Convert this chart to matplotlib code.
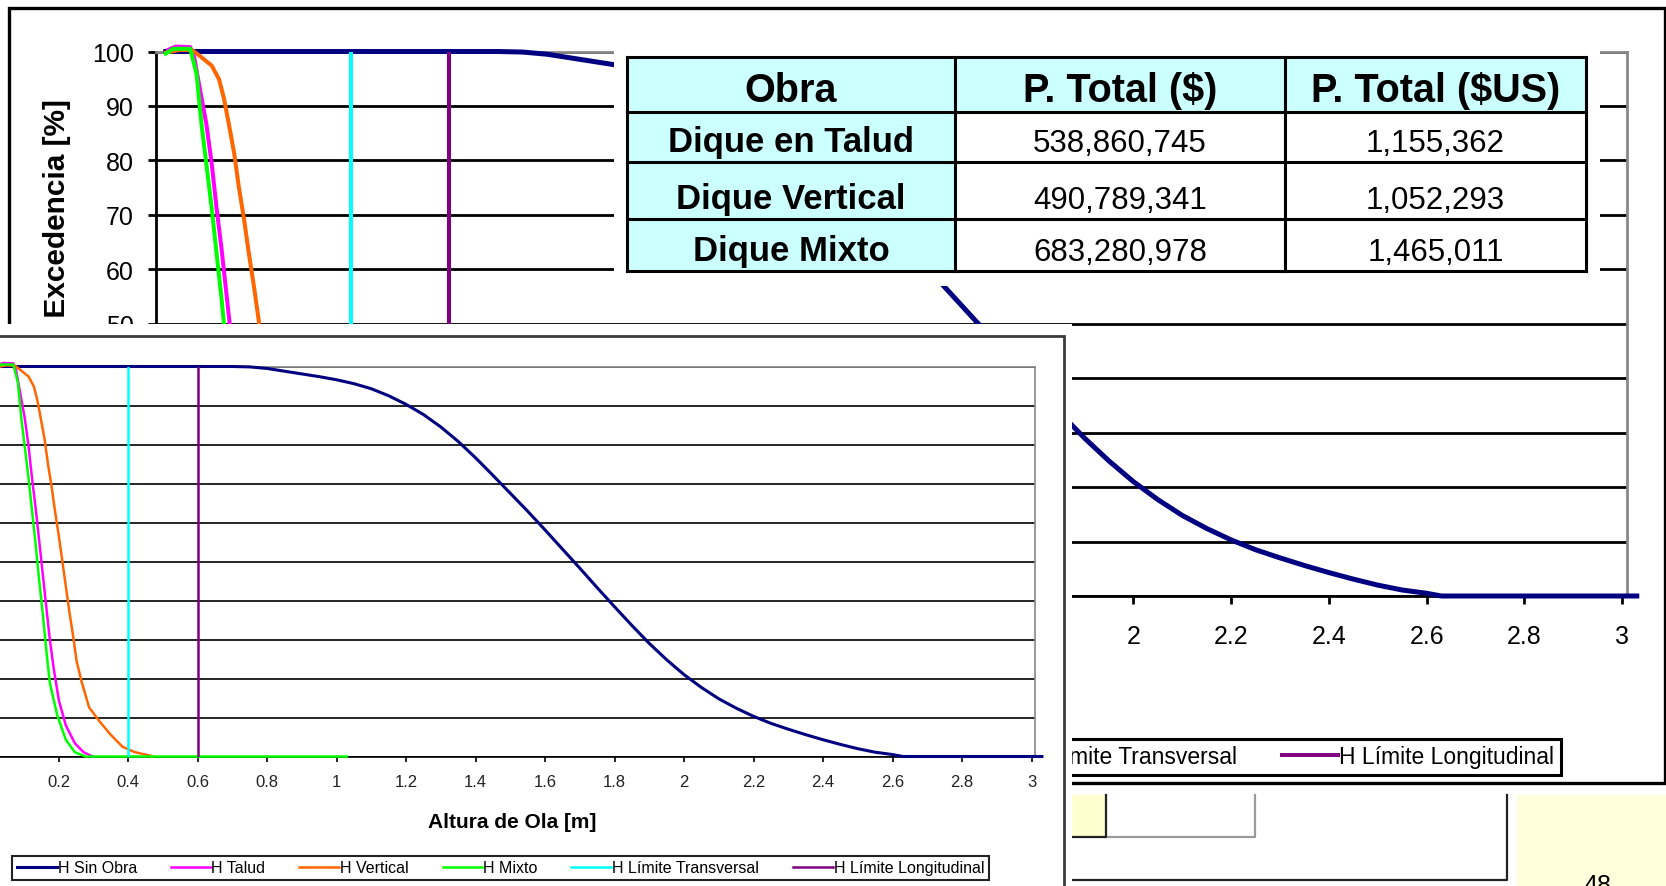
import matplotlib
matplotlib.use("Agg")
import matplotlib.pyplot as plt
from matplotlib.patches import Rectangle

plt.rcParams['font.family'] = ['Liberation Sans', 'DejaVu Sans']

# ---------------------------------------------------------------
# Wave-height exceedance curves: x = wave height [m], y = exceedance [%]
# ---------------------------------------------------------------
h_sin_obra_x = [0.02, 0.70, 0.75, 0.80, 0.85, 0.90, 0.95, 1.00, 1.05, 1.10, 1.15,
                1.20, 1.25, 1.30, 1.35, 1.40, 1.45, 1.50, 1.55, 1.60, 1.65,
                1.70, 1.75, 1.80, 1.85, 1.90, 1.95, 2.00, 2.05, 2.10, 2.15,
                2.20, 2.25, 2.30, 2.35, 2.40, 2.45, 2.50, 2.55, 2.60, 2.63, 3.03]
h_sin_obra_y = [100.0, 100.0, 99.9, 99.5, 98.8, 98.1, 97.4, 96.6, 95.6, 94.3, 92.5,
                90.3, 87.7, 84.5, 80.8, 76.6, 72.1, 67.5, 62.9, 58.1, 53.2,
                48.3, 43.3, 38.4, 33.6, 29.0, 24.8, 21.0, 17.7, 14.8, 12.4,
                10.3, 8.5, 7.0, 5.6, 4.3, 3.1, 2.0, 1.1, 0.5, 0.0, 0.0]

h_talud_x = [0.025, 0.04, 0.07, 0.078, 0.088, 0.103, 0.114, 0.124, 0.134, 0.144,
             0.155, 0.165, 0.175, 0.186, 0.201, 0.221, 0.247, 0.272, 0.293, 0.30]
h_talud_y = [100.3, 100.9, 100.8, 99.0, 94.0, 86.7, 79.4, 71.2, 63.8, 55.6,
             46.5, 38.2, 30.0, 22.7, 14.4, 8.0, 3.4, 1.1, 0.2, 0.0]

h_vertical_x = [0.02, 0.05, 0.075, 0.088, 0.114, 0.129, 0.139, 0.149, 0.160, 0.170,
                0.180, 0.190, 0.201, 0.211, 0.221, 0.231, 0.242, 0.252, 0.267,
                0.288, 0.319, 0.349, 0.384, 0.420, 0.465, 0.47]
h_vertical_y = [99.8, 100.3, 100.2, 99.3, 97.4, 94.9, 91.4, 86.7, 81.3, 74.8,
                69.3, 62.9, 56.5, 50.1, 43.7, 37.3, 30.9, 24.5, 19.0,
                12.6, 8.9, 5.7, 2.5, 1.1, 0.2, 0.0]

h_mixto_x = [0.02, 0.035, 0.07, 0.083, 0.093, 0.103, 0.114, 0.124, 0.134, 0.144,
             0.155, 0.165, 0.175, 0.196, 0.221, 0.247, 0.278, 1.03]
h_mixto_y = [99.6, 100.5, 100.5, 95.9, 86.7, 79.4, 71.2, 62.9, 54.7, 45.5,
             36.4, 27.2, 18.9, 10.7, 4.3, 1.1, 0.0, 0.0]

limite_transversal = 0.4
limite_longitudinal = 0.6

series_labels = ["H Sin Obra", "H Talud", "H Vertical", "H Mixto",
                 "H Límite Transversal", "H Límite Longitudinal"]
series_colors = ["#000080", "#FF00FF", "#FF6600", "#00FF00", "#00FFFF", "#800080"]

x_tick_values = [0, 0.2, 0.4, 0.6, 0.8, 1, 1.2, 1.4, 1.6, 1.8, 2, 2.2, 2.4, 2.6, 2.8, 3]
y_tick_values = [0, 10, 20, 30, 40, 50, 60, 70, 80, 90, 100]
x_label = "Altura de Ola [m]"
y_label = "Probabilidad de Excedencia [%]"

# Cost summary table
table_columns = ["Obra", "P. Total ($)", "P. Total ($US)"]
table_obras = ["Dique en Talud", "Dique Vertical", "Dique Mixto"]
table_total_clp = [538860745, 490789341, 683280978]
table_total_usd = [1155362, 1052293, 1465011]

page_number = "48"

# ---------------------------------------------------------------
W, H = 1666, 887
fig = plt.figure(figsize=(W / 100, H / 100), dpi=100)
fig.patch.set_facecolor("white")


def px_rect(left, top, right, bottom):
    return [left / W, 1 - bottom / H, (right - left) / W, (bottom - top) / H]


def overlay(z):
    ax = fig.add_axes([0, 0, 1, 1], zorder=z)
    ax.set_xlim(0, W)
    ax.set_ylim(H, 0)
    ax.axis("off")
    ax.patch.set_alpha(0)
    return ax


def build_chart(ax, lw_navy, lw_curve, lw_grid, lw_axis, lw_border,
                tick_fs, tick_len, xpad, ypad):
    handles = []
    handles += ax.plot(h_sin_obra_x, h_sin_obra_y, color=series_colors[0],
                       lw=lw_navy, clip_on=False, zorder=4)
    handles += ax.plot(h_talud_x, h_talud_y, color=series_colors[1],
                       lw=lw_curve, clip_on=False, zorder=4)
    handles += ax.plot(h_vertical_x, h_vertical_y, color=series_colors[2],
                       lw=lw_curve, clip_on=False, zorder=4)
    handles += ax.plot(h_mixto_x, h_mixto_y, color=series_colors[3],
                       lw=lw_curve, clip_on=False, zorder=4)
    handles.append(ax.axvline(limite_transversal, color=series_colors[4],
                              lw=lw_curve, zorder=4))
    handles.append(ax.axvline(limite_longitudinal, color=series_colors[5],
                              lw=lw_curve, zorder=4))
    ax.set_xlim(0, 3.01)
    ax.set_ylim(0, 100)
    ax.set_xticks(x_tick_values)
    ax.set_xticklabels([f"{v:g}" for v in x_tick_values])
    ax.set_yticks(y_tick_values)
    ax.grid(axis="y", color="black", lw=lw_grid)
    ax.grid(axis="x", visible=False)
    ax.set_axisbelow(True)
    for side in ("top", "right"):
        ax.spines[side].set_color("#888888")
        ax.spines[side].set_linewidth(lw_border)
    for side in ("left", "bottom"):
        ax.spines[side].set_color("black")
        ax.spines[side].set_linewidth(lw_axis)
    ax.tick_params(axis="both", direction="out", length=tick_len, width=lw_axis,
                   labelsize=tick_fs, colors="black")
    ax.tick_params(axis="x", pad=xpad)
    ax.tick_params(axis="y", pad=ypad)
    return handles


# ---------------- slide layer (under everything) ----------------
base = overlay(0)
base.add_patch(Rectangle((1517, 796), 160, 100, fc="#FFFFDC", ec="none"))
base.text(1597, 874, page_number, ha="center", va="top", fontsize=18, color="black")
base.add_patch(Rectangle((1040, 796), 66, 42, fc="#FFFFD0", ec="none"))
base.plot([1255, 1255, 1106], [796, 838, 838], color="#9a9a9a", lw=1.6)
base.plot([1106, 1106, 1040], [796, 838, 838], color="#222222", lw=1.6)
base.plot([1507, 1507, 1040], [796, 881, 881], color="#222222", lw=1.6)
# outer frame of the large chart
base.add_patch(Rectangle((9, 9), 1656, 775, fc="white", ec="black", lw=2.4))

# ---------------- large chart ----------------
bg = fig.add_axes(px_rect(156, 52.5, 1627, 597), zorder=1)
bg_handles = build_chart(bg, lw_navy=3.6, lw_curve=2.9, lw_grid=2.0, lw_axis=2.0,
                         lw_border=2.0, tick_fs=18, tick_len=5.5, xpad=15, ypad=10.5)
bg.set_xlabel(x_label, fontsize=21, fontweight="bold")
bg.xaxis.set_label_coords(0.5, -0.169)
bg.set_ylabel(y_label, fontsize=21.5, fontweight="bold")
bg.yaxis.set_label_coords((57 - 156) / 1471, 0.5)
bg.yaxis.label.set_va("center")
bg_leg = bg.legend(bg_handles, series_labels, loc="center",
                   bbox_to_anchor=(189 / W, 1 - 778 / H, 1372 / W, 40 / H),
                   bbox_transform=fig.transFigure, mode="expand", ncol=6,
                   fontsize=16.5, handlelength=2.45, handletextpad=0.05,
                   borderaxespad=0, borderpad=0.3, columnspacing=0.5,
                   fancybox=False, framealpha=1, edgecolor="black")
bg_leg.get_frame().set_linewidth(2.2)

# ---------------- cost table ----------------
tb = overlay(2)
col_edges = [627, 955, 1285, 1586]
row_edges = [58, 113, 163, 220, 272]
# white margin of the pasted table object
tb.add_patch(Rectangle((614, 46), 986, 241, fc="white", ec="none"))
rows = [table_columns] + [[o, f"{a:,}", f"{b:,}"]
                          for o, a, b in zip(table_obras, table_total_clp, table_total_usd)]
for r, row in enumerate(rows):
    for c, txt in enumerate(row):
        x0, x1 = col_edges[c], col_edges[c + 1]
        y0, y1 = row_edges[r], row_edges[r + 1]
        fill = "#CCFFFF" if (r == 0 or c == 0) else "white"
        tb.add_patch(Rectangle((x0, y0), x1 - x0, y1 - y0, fc=fill, ec="none"))
        if r == 0:
            fs, fw = 28.5, "bold"
        elif c == 0:
            fs, fw = 25, "bold"
        else:
            fs, fw = 22.5, "normal"
        tb.text((x0 + x1) / 2, y1 - 11, txt, ha="center", va="baseline",
                fontsize=fs, fontweight=fw, color="black")
for xe in col_edges:
    tb.plot([xe, xe], [row_edges[0], row_edges[-1]], color="black", lw=2.2,
            solid_capstyle="projecting")
for ye in row_edges:
    tb.plot([col_edges[0], col_edges[-1]], [ye, ye], color="black", lw=2.2,
            solid_capstyle="projecting")

# ---------------- front chart ----------------
front = overlay(3)
# white margin of the pasted chart object, then its frame
front.add_patch(Rectangle((-20, 325), 1092, 620, fc="white", ec="none"))
front.add_patch(Rectangle((-20, 337), 1084, 620, fc="white", ec="#3c3c3c", lw=2.0))

fr = fig.add_axes(px_rect(-11, 367.5, 1035, 757.5), zorder=4)
fr_handles = build_chart(fr, lw_navy=2.2, lw_curve=1.8, lw_grid=1.2, lw_axis=1.2,
                         lw_border=1.2, tick_fs=12, tick_len=3.6, xpad=9, ypad=8)
for lab in fr.get_xticklabels():
    lab.set_color("#222222")
fr.set_xlabel(x_label, fontsize=15, fontweight="bold")
fr.xaxis.set_label_coords(0.5, -(823 - 757.5) / 390)
fr.xaxis.label.set_va("center")
fr.set_ylabel(y_label, fontsize=14, fontweight="bold")
fr_leg = fr.legend(fr_handles, series_labels, loc="center",
                   bbox_to_anchor=(12 / W, 1 - 884 / H, 977 / W, 30 / H),
                   bbox_transform=fig.transFigure, mode="expand", ncol=6,
                   fontsize=11.5, handlelength=2.5, handletextpad=0.05,
                   borderaxespad=0, borderpad=0.3, columnspacing=0.5,
                   fancybox=False, framealpha=1, edgecolor="#222222")
fr_leg.get_frame().set_linewidth(1.5)

fig.savefig("out.png", dpi=100, facecolor="white")
